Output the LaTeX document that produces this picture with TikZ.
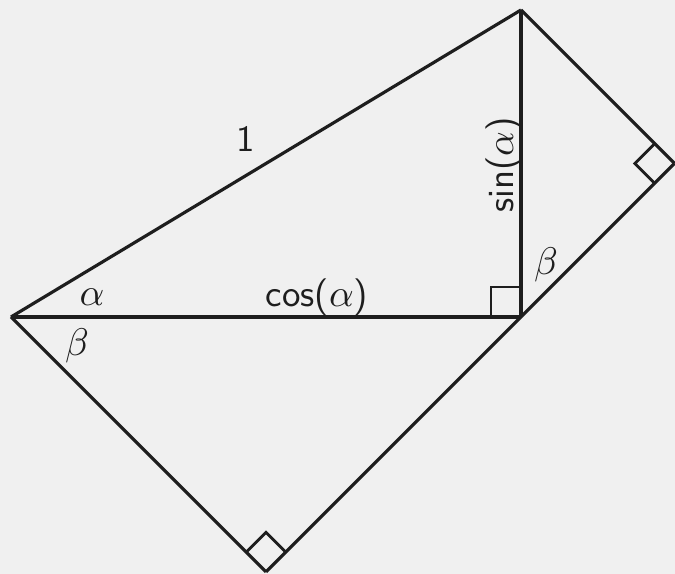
\documentclass[tikz,border=0pt]{standalone}
\usetikzlibrary{calc}
\definecolor{bg}{HTML}{F0F0F0}
\definecolor{ink}{HTML}{1E1E1E}
\begin{document}
\begin{tikzpicture}[x=0.01cm,y=-0.01cm,
  edge/.style={draw=ink,line width=0.9pt,line join=miter},
  rightmark/.style={draw=ink,line width=0.8pt},
  lab/.style={text=ink,font=\sffamily\fontsize{10.5}{12}\selectfont,inner sep=0pt}]
\fill[bg] (0,0) rectangle (675,574);
\useasboundingbox (0,0) rectangle (675,574);
\coordinate (O) at (11,317);
\coordinate (A) at (521,317);
\coordinate (T) at (521,10);
\coordinate (B) at (266,572);
\coordinate (R) at (674.5,163.5);
% triangles
\draw[edge] (O) -- (T);
\draw[edge] (O) -- (A);
\draw[edge] (A) -- (T);
\draw[edge] (T) -- (R);
\draw[edge] (B) -- (R);
\draw[edge] (O) -- (B);
% right angle marks
\draw[rightmark] ($(A)+(-30,0)$) -- ++(0,-30) -- ++(30,0);
\coordinate (b1) at ($(B)!0.28cm!(O)$);
\coordinate (b2) at ($(B)!0.28cm!(R)$);
\draw[rightmark] (b1) -- ($(b1)+(b2)-(B)$) -- (b2);
\coordinate (r1) at ($(R)!0.28cm!(T)$);
\coordinate (r2) at ($(R)!0.28cm!(B)$);
\draw[rightmark] (r1) -- ($(r1)+(r2)-(R)$) -- (r2);
% labels
\node[lab] (one) at (246,139) {1};
\node[lab] (cos) at (317,297) {cos($\alpha$)};
\node[lab,rotate=90] (sin) at (504,165) {sin($\alpha$)};
\node[lab] (al) at (92,297) {$\alpha$};
\node[lab] (b1l) at (77,346) {$\beta$};
\node[lab] (b2l) at (546,265) {$\beta$};
\end{tikzpicture}
\end{document}
